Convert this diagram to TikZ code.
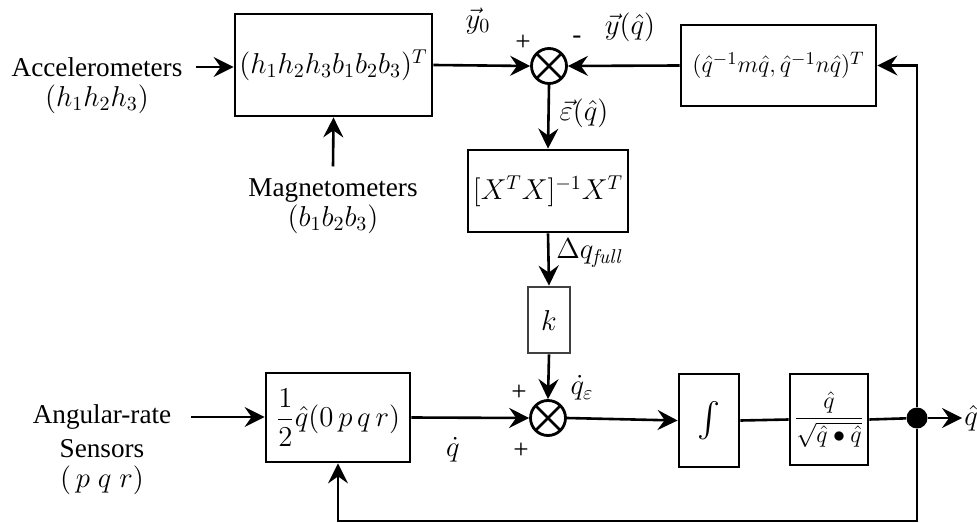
\documentclass[tikz,border=0pt]{standalone}
\usepackage{amsmath}
\usepackage[no-math]{fontspec}
\setmainfont{Liberation Serif}
\usetikzlibrary{arrows.meta}

\tikzset{
  blk/.style={draw, line width=1.4pt, inner sep=0pt},
  sumjunc/.style={draw, circle, line width=1.4pt, minimum size=17.5pt, inner sep=0pt,
    path picture={\draw[line width=1.4pt]
      (path picture bounding box.north west) -- (path picture bounding box.south east)
      (path picture bounding box.north east) -- (path picture bounding box.south west);}},
  sig/.style={line width=1.3pt, -{Stealth[length=10pt,width=10pt,inset=3.5pt]}},
  wire/.style={line width=1.3pt},
  smallmath/.style={font=\fontsize{12.5}{14}\selectfont},
}

\begin{document}
\begin{tikzpicture}[x=0.5pt, y=-0.5pt, font=\fontsize{13.6}{16}\selectfont]
\useasboundingbox (0,0) rectangle (977,523);

% blocks
\node[blk, minimum width=98.5pt, minimum height=51pt] (hb) at (333.5,65) {$(h_1h_2h_3b_1b_2b_3)^T$};
\node[blk, smallmath, minimum width=97.5pt, minimum height=40.5pt] (rot) at (778.5,65.5) {$(\hat{q}^{-1}m\hat{q},\hat{q}^{-1}n\hat{q})^T$};
\node[blk, minimum width=80pt, minimum height=41pt] (lsq) at (548,191) {$[X^TX]^{-1}X^T$};
\node[blk, draw=black!75, minimum width=21pt, minimum height=33pt] (gain) at (549,320) {$k$};
\node[blk, minimum width=72pt, minimum height=44.5pt] (kin) at (338,417.5) {$\dfrac{1}{2}\hat{q}(0\,p\,q\,r)$};
\node[blk, font=\fontsize{19}{21}\selectfont, minimum width=30pt, minimum height=46.5pt] (integ) at (709,420.5) {$\int$};
\node[blk, smallmath, minimum width=39pt, minimum height=45.5pt] (norm) at (829,419.5) {$\dfrac{\hat{q}}{\sqrt{\hat{q}\bullet\hat{q}}}$};

% summing junctions
\node[sumjunc] (sumtop) at (549,66) {};
\node[sumjunc] (sumbot) at (548,418) {};
\node[circle, fill, inner sep=0pt, minimum size=10.5pt] (split) at (917,418) {};
\coordinate (fbk) at (917,521);

% sensor texts
\node[outer xsep=3.5pt] (acc) at (97,67) {Accelerometers};
\node (accsub) at (97,99) {$(h_1h_2h_3)$};
\node[outer ysep=3pt] (mag) at (333,191) {Magnetometers};
\node (magsub) at (333,219) {$(b_1b_2b_3)$};
\node[outer xsep=6.5pt] (ang) at (102,417) {Angular-rate};
\node (angsub) at (102,449) {Sensors};
\node (angsub2) at (102,480) {$(\,p\;q\;r)$};
\node[anchor=west, inner xsep=1pt] (qout) at (962,418) {$\hat{q}$};

% signal labels
\node (y0) at (478,21) {$\vec{y}_0$};
\node (yq) at (630,27) {$\vec{y}(\hat{q})$};
\node (eps) at (584,113) {$\vec{\varepsilon}(\hat{q})$};
\node (dqf) at (590,253) {$\Delta q_{\mathit{full}}$};
\node (dqe) at (582,388) {$\dot{q}_{\varepsilon}$};
\node (dq) at (453,450) {$\dot{q}$};
\node (ptop) at (523,43) {+};
\node (mtop) at (577,40) {-};
\node (pbot1) at (519,393) {+};
\node (pbot2) at (521,451) {+};

% connectors
\draw[sig] (acc.east) -- (acc.east -| hb.west);
\draw[sig] (mag.north) -- (hb.south);
\draw[sig] (hb.east) -- (sumtop.west);
\draw[sig] (rot.west) -- (sumtop.east);
\draw[sig] (sumtop.south) -- (lsq.north);
\draw[sig] (lsq.south) -- (gain.north);
\draw[sig] (gain.south) -- (sumbot.north);
\draw[sig] (ang.east) -- (ang.east -| kin.west);
\draw[sig] (kin.east) -- (sumbot.west);
\draw[sig] (sumbot.east) -- (integ.west);
\draw[wire] (integ.east) -- (norm.west);
\draw[wire] (norm.east) -- (split);
\draw[sig] (split) -- (qout.west);
\draw[sig] (split) |- (rot.east);
\draw[sig] (split) -- (fbk) -| (kin.south);
\end{tikzpicture}
\end{document}
